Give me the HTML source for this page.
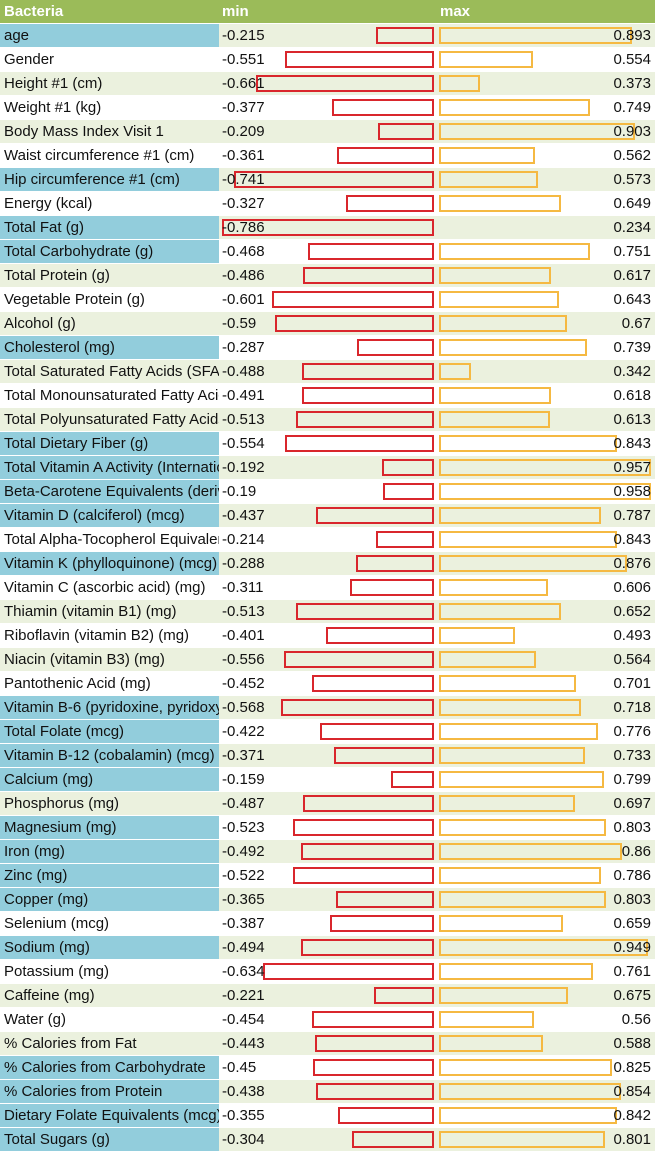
<!DOCTYPE html>
<html><head><meta charset="utf-8">
<style>
body{margin:0;width:655px;height:1151px;background:#fff;overflow:hidden;font-family:"Liberation Sans",sans-serif;}
#t{position:relative;width:655px;height:1151px;}
.c{position:absolute;height:23px;line-height:24px;font-size:15px;color:#111;white-space:nowrap;overflow:hidden;box-sizing:border-box;}
.b{position:absolute;box-sizing:border-box;height:17px;}
.h{position:absolute;top:0;height:23px;line-height:23px;font-size:15px;font-weight:bold;color:#fff;}
</style></head><body>
<div id="t">
<div style="position:absolute;left:0;top:0;width:655px;height:23px;background:#9bbb59"></div>
<div class="h" style="left:4px">Bacteria</div>
<div class="h" style="left:222px">min</div>
<div class="h" style="left:440px">max</div>
</div>
<script>
const labels=["age","Gender","Height #1 (cm)","Weight #1 (kg)","Body Mass Index Visit 1","Waist circumference #1 (cm)","Hip circumference #1 (cm)","Energy (kcal)","Total Fat (g)","Total Carbohydrate (g)","Total Protein (g)","Vegetable Protein (g)","Alcohol (g)","Cholesterol (mg)","Total Saturated Fatty Acids (SFA)","Total Monounsaturated Fatty Acids","Total Polyunsaturated Fatty Acids","Total Dietary Fiber (g)","Total Vitamin A Activity (International Units)","Beta-Carotene Equivalents (derived)","Vitamin D (calciferol) (mcg)","Total Alpha-Tocopherol Equivalents","Vitamin K (phylloquinone) (mcg)","Vitamin C (ascorbic acid) (mg)","Thiamin (vitamin B1) (mg)","Riboflavin (vitamin B2) (mg)","Niacin (vitamin B3) (mg)","Pantothenic Acid (mg)","Vitamin B-6 (pyridoxine, pyridoxyl)","Total Folate (mcg)","Vitamin B-12 (cobalamin) (mcg)","Calcium (mg)","Phosphorus (mg)","Magnesium (mg)","Iron (mg)","Zinc (mg)","Copper (mg)","Selenium (mcg)","Sodium (mg)","Potassium (mg)","Caffeine (mg)","Water (g)","% Calories from Fat","% Calories from Carbohydrate","% Calories from Protein","Dietary Folate Equivalents (mcg)","Total Sugars (g)"];
const minVals=[-0.215,-0.551,-0.661,-0.377,-0.209,-0.361,-0.741,-0.327,-0.786,-0.468,-0.486,-0.601,-0.59,-0.287,-0.488,-0.491,-0.513,-0.554,-0.192,-0.19,-0.437,-0.214,-0.288,-0.311,-0.513,-0.401,-0.556,-0.452,-0.568,-0.422,-0.371,-0.159,-0.487,-0.523,-0.492,-0.522,-0.365,-0.387,-0.494,-0.634,-0.221,-0.454,-0.443,-0.45,-0.438,-0.355,-0.304];
const maxVals=[0.893,0.554,0.373,0.749,0.903,0.562,0.573,0.649,0.234,0.751,0.617,0.643,0.67,0.739,0.342,0.618,0.613,0.843,0.957,0.958,0.787,0.843,0.876,0.606,0.652,0.493,0.564,0.701,0.718,0.776,0.733,0.799,0.697,0.803,0.86,0.786,0.803,0.659,0.949,0.761,0.675,0.56,0.588,0.825,0.854,0.842,0.801];
const blueRows=[0,6,8,9,13,17,18,19,20,22,28,29,30,31,33,34,35,36,38,43,44,45,46];
const t=document.getElementById('t');
const maxLo=Math.min(...maxVals),maxHi=Math.max(...maxVals),minHi=Math.max(...minVals.map(Math.abs));
function minW(v){return Math.abs(v)/minHi*212;}
function maxW(v){return (v-maxLo)/(maxHi-maxLo)*212;}
labels.forEach((lab,i)=>{
  const y=24+i*24;const bg=i%2===0?'#ebf1de':'#ffffff';
  const row=document.createElement('div');
  
  
  row.style.cssText=`position:absolute;left:0;top:${y}px;width:655px;height:23px;background:${bg}`;
  t.appendChild(row);
  const l=document.createElement('div');l.className='c';
  
  
  l.style.cssText+=`left:0;top:${y}px;width:219px;padding-left:4px;background:${blueRows.includes(i)?'#92cddc':'transparent'}`;
  l.textContent=lab;t.appendChild(l);
  const mb=document.createElement('div');mb.className='b';
  
  
  const w1=minW(minVals[i]);
  mb.style.cssText+=`left:${434-w1}px;top:${y+3}px;width:${w1}px;border:2px solid #d9262c`;
  t.appendChild(mb);
  const mt=document.createElement('div');mt.className='c';
  
  
  mt.style.cssText+=`left:222px;top:${y}px;`;mt.textContent=minVals[i];t.appendChild(mt);
  const w2=maxW(maxVals[i]);
  if(w2>1){const xb=document.createElement('div');xb.className='b';
  
  
  xb.style.cssText+=`left:439px;top:${y+3}px;width:${w2}px;border:2px solid #f5b942`;
  t.appendChild(xb);}
  const xt=document.createElement('div');xt.className='c';
  
  
  xt.style.cssText+=`right:4px;top:${y}px;`;xt.textContent=maxVals[i];t.appendChild(xt);
});
</script>
</body></html>
